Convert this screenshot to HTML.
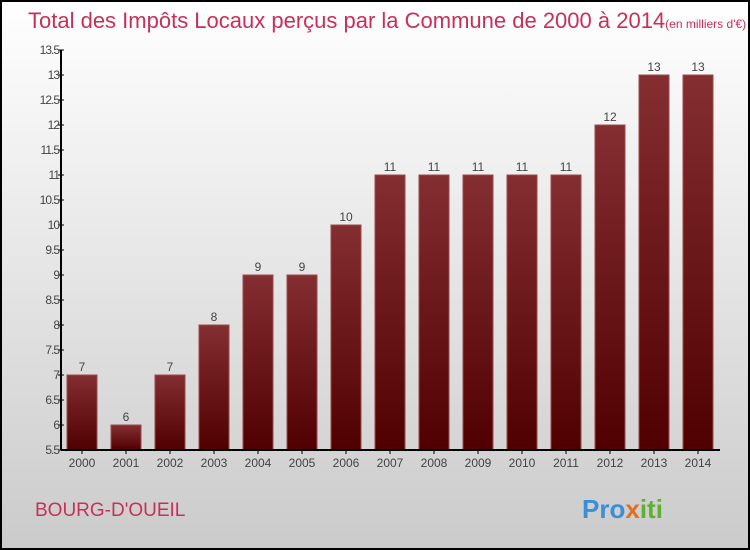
<!DOCTYPE html>
<html><head><meta charset="utf-8"><style>
body{margin:0;}
#wrap{position:relative;width:746px;height:546px;border:2px solid #000;background:linear-gradient(#ffffff,#cbcbcb);font-family:"Liberation Sans",sans-serif;overflow:hidden;}
</style></head><body>
<div id="wrap">
<svg id="chart" width="746" height="546" xmlns="http://www.w3.org/2000/svg">
<defs><linearGradient id="bg" x1="0" y1="0" x2="0" y2="1"><stop offset="0" stop-color="#842e32"/><stop offset="1" stop-color="#500000"/></linearGradient></defs>
<text x="26" y="26" font-size="22" fill="#c8305a">Total des Impôts Locaux perçus par la Commune de 2000 à 2014<tspan font-size="12">(en milliers d'€)</tspan></text>
<text x="33" y="514" font-size="19" fill="#c8305a">BOURG-D'OUEIL</text>
<text x="580" y="516" font-size="26" font-weight="bold" fill="#3a8fd8">Pro<tspan fill="#e07020">x</tspan><tspan fill="#60b030">iti</tspan></text>
<g id="plot"></g>
</svg>
</div>
<script>
const categories=["2000","2001","2002","2003","2004","2005","2006","2007","2008","2009","2010","2011","2012","2013","2014"];
const values=[7,6,7,8,9,9,10,11,11,11,11,11,12,13,13];
const labels=["7","6","7","8","9","9","10","11","11","11","11","11","12","13","13"];
const yTicks=[5.5,6,6.5,7,7.5,8,8.5,9,9.5,10,10.5,11,11.5,12,12.5,13,13.5];
const ns="http://www.w3.org/2000/svg";
const g=document.getElementById('plot');
const ox=-2,oy=-2;
function y(v){return 448-(v-5.5)*50;}
function x(i){return 80+i*44;}
function mk(t,a){const e=document.createElementNS(ns,t);for(const k in a)e.setAttribute(k,a[k]);g.appendChild(e);return e;}
categories.forEach((c,i)=>{
 const r=mk('rect',{x:x(i)-15,y:y(values[i]),width:30,height:y(5.5)-y(values[i]),fill:'url(#bg)',stroke:'#9a4a4a','stroke-width':1});
 
 
 const t=mk('text',{x:x(i),y:y(values[i])-4,'font-size':12,fill:'#444','text-anchor':'middle'});t.textContent=labels[i];
 
 
 const xl=mk('text',{x:x(i),y:465,'font-size':12,fill:'#444','text-anchor':'middle'});xl.textContent=c;
 
 
 mk('line',{x1:x(i),x2:x(i),y1:448,y2:452,stroke:'#000'});
});
yTicks.forEach(v=>{
 mk('line',{x1:56,x2:62,y1:y(v),y2:y(v),stroke:'#000'});
 const t=mk('text',{x:57,y:y(v)+4,'font-size':12,fill:'#444','text-anchor':'end','letter-spacing':'-1'});t.textContent=String(v);
 
 
});
const ya=mk('line',{x1:59,x2:59,y1:y(13.5),y2:448,stroke:'#000','stroke-width':2});


const xa=mk('line',{x1:59,x2:718,y1:448,y2:448,stroke:'#000','stroke-width':2});


</script>
</body></html>
